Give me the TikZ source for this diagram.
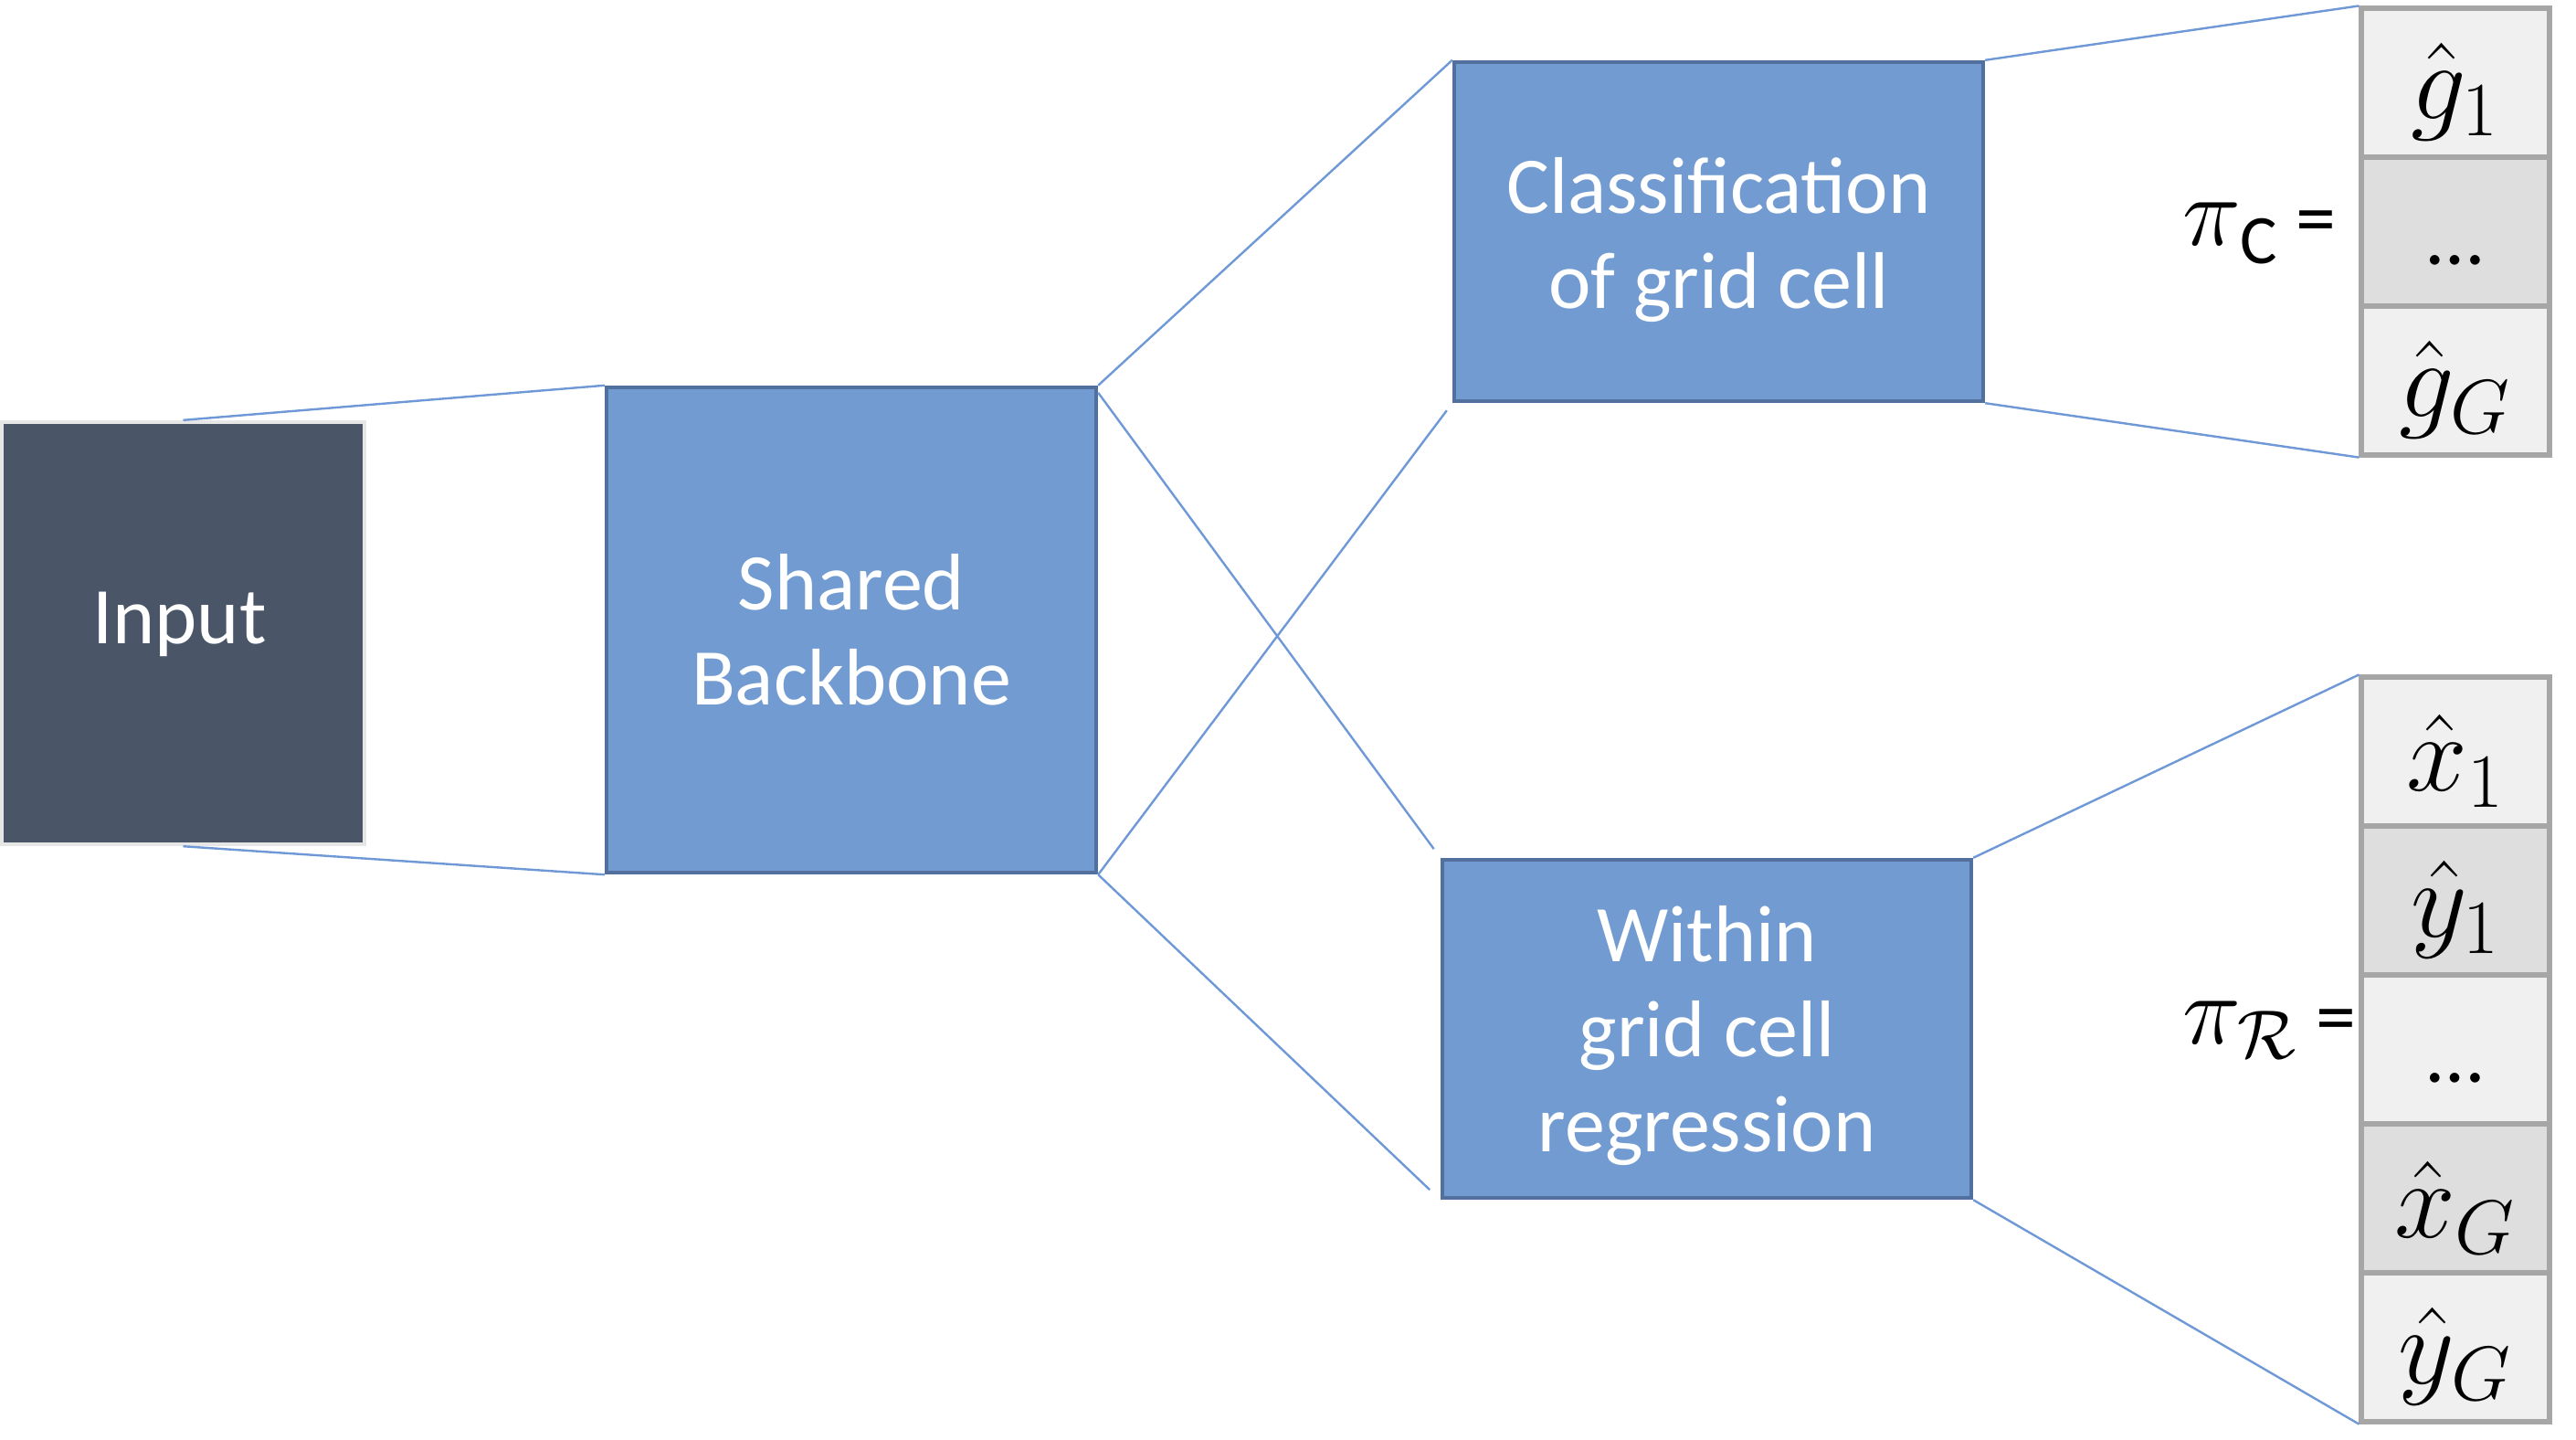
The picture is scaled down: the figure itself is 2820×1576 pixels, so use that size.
\RequirePackage{fix-cm}
\documentclass[tikz,border=0pt]{standalone}
\usepackage{amsmath}
\usepackage{fontspec}
\setmainfont{Carlito}
\definecolor{boxblue}{HTML}{729BD1}
\definecolor{boxedge}{HTML}{51709E}
\definecolor{inputfill}{HTML}{4A5568}
\definecolor{inputedge}{HTML}{E6E6E6}
\definecolor{conncol}{HTML}{6E99D6}
\definecolor{cellA}{HTML}{F0F0F0}
\definecolor{cellB}{HTML}{DEDEDE}
\definecolor{celledge}{HTML}{A6A6A6}
\newcommand{\cellmath}[1]{\raisebox{-2.5pt}[\height][\depth]{$#1$}}
\begin{document}
\begin{tikzpicture}[x=0.25pt,y=-0.25pt,
  txt/.style={font=\fontsize{22}{26}\selectfont},
  blk/.style={draw=boxedge, fill=boxblue, line width=1.1pt, text=white, txt, align=center, inner sep=0pt},
  boxtext/.style={text=white, txt, align=center, inner sep=0pt},
  inbox/.style={draw=inputedge, fill=inputfill, line width=1.1pt, text=white, txt, inner sep=0pt},
  cell/.style={draw=celledge, line width=1.3pt, minimum width=51.5pt, minimum height=40.75pt, inner sep=0pt, font=\fontsize{30}{34}\selectfont},
  conn/.style={draw=conncol, line width=0.6pt},
  lbl/.style={font=\fontsize{27}{31}\selectfont, anchor=base east, inner sep=0pt}
]
\useasboundingbox (0,0) rectangle (2820,1576);
% main blocks
\node[inbox, minimum width=99.25pt, minimum height=115.5pt] (in) at (200.5,693) {\raisebox{8.25pt}{\hspace*{-2pt}Input}};
\node[blk, minimum width=134pt, minimum height=132.75pt] (bb) at (932,689.5) {Shared\\Backbone};
\node[blk, minimum width=144.75pt, minimum height=92.75pt] (cls) at (1881.5,253.5) {};
\node[boxtext] (clsT) at ([yshift=-2.25pt]cls.center) {Classification\\of grid cell};
\node[blk, minimum width=144.75pt, minimum height=92.5pt] (wgr) at (1868.5,1126) {};
\node[boxtext] (wgrT) at ([yshift=-1.75pt]wgr.center) {Within\\grid cell\\regression};
% classification output column
\node[cell, fill=cellA] (g1) at (2688,90.5) {\cellmath{\hat{g}_1}};
\node[cell, fill=cellB, txt] (gd) at (2688,253.5) {\smash{\raisebox{-9pt}{\ldots}}};
\node[cell, fill=cellA] (gG) at (2688,416.5) {\cellmath{\hat{g}_G}};
% regression output column
\node[cell, fill=cellA] (x1) at (2688,822.5) {\cellmath{\hat{x}_1}};
\node[cell, fill=cellB] (y1) at (2688,985.5) {\cellmath{\hat{y}_1}};
\node[cell, fill=cellA, txt] (rd) at (2688,1148.5) {\smash{\raisebox{-9pt}{\ldots}}};
\node[cell, fill=cellB] (xG) at (2688,1311.5) {\cellmath{\hat{x}_G}};
\node[cell, fill=cellA] (yG) at (2688,1474.5) {\cellmath{\hat{y}_G}};
% labels
\node[lbl] (piC) at (2558,268) {$\pi$\raisebox{-5pt}{\fontsize{19}{22}\selectfont C}\fontsize{22}{26}\selectfont{} =};
\node[lbl] (piR) at (2580,1142) {$\pi_{\mathcal{R}}$\fontsize{22}{26}\selectfont{} =};
% connectors
\draw[conn] (in.north) -- (bb.north west);
\draw[conn] (in.south) -- (bb.south west);
\draw[conn] (bb.north east) -- (cls.north west);
\draw[conn, shorten >=3pt] ([yshift=-2pt]bb.north east) -- (wgr.north west);
\draw[conn, shorten >=2.5pt] (bb.south east) -- (cls.south west);
\draw[conn, shorten >=4pt] (bb.south east) -- (wgr.south west);
\draw[conn] (cls.north east) -- (g1.north west);
\draw[conn] (cls.south east) -- (gG.south west);
\draw[conn] (wgr.north east) -- (x1.north west);
\draw[conn] (wgr.south east) -- (yG.south west);
\end{tikzpicture}
\end{document}
